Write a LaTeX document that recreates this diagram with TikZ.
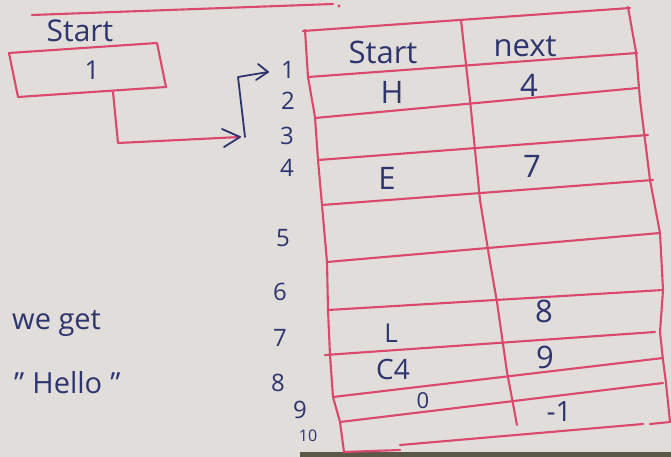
\documentclass[tikz,border=0pt]{standalone}
\usepackage{fontspec}
\setmainfont{Open Sans}
\definecolor{paper}{RGB}{224,221,218}
\definecolor{redpen}{RGB}{218,72,110}
\definecolor{bluepen}{RGB}{45,52,110}
\definecolor{shadow}{RGB}{92,88,72}
\tikzset{
  redline/.style={draw=redpen, line width=2.1pt, line join=round, line cap=round},
  blueline/.style={draw=bluepen, line width=1.8pt, line join=round, line cap=round},
  ink/.style={text=bluepen, inner sep=0pt, font=\fontsize{31}{31}\selectfont},
  rownum/.style={text=bluepen, inner sep=0pt, font=\fontsize{24}{24}\selectfont},
  side/.style={text=bluepen, inner sep=0pt, anchor=west, font=\fontsize{29}{29}\selectfont},
}
\begin{document}
\begin{tikzpicture}[x=1pt,y=-1pt]
\fill[paper] (0,0) rectangle (671,457);
\fill[shadow] (300,452) rectangle (671,457);
\useasboundingbox (0,0) rectangle (671,457);

% margin line at the top
\draw[redline] (32,15) -- (333,4);
\fill[redpen] (339,6) circle (1.6);

% start box
\node[ink, font=\fontsize{30}{30}\selectfont] (startlbl) at (80,31) {Start};
\coordinate (b1) at (9,53);
\coordinate (b2) at (157,43);
\coordinate (b3) at (166,87);
\coordinate (b4) at (18,97);
\draw[redline] (b1) -- (b2) -- (b3) -- (b4) -- cycle;
\node[ink, font=\fontsize{26}{26}\selectfont] (startval) at (92,70) {1};

% connector from the box to row 1
\coordinate (c0) at (113,92);
\coordinate (c1) at (118,143);
\coordinate (c2) at (240,137);
\coordinate (c3) at (238,77);
\coordinate (c4) at (268,72);
\draw[redline] (c0) -- (c1) -- (c2);
\draw[blueline] (222,129) -- (c2) -- (224,147);
\draw[blueline] (245,137) -- (c3) -- (c4);
\draw[blueline] (258,64) -- (c4) -- (256,80);

% table grid
\draw[redline] (305,30) -- (308,77) -- (315,117) -- (318,160) -- (322,205)
  -- (327,262) -- (328,310) -- (330,355) -- (333,397) -- (340,422) -- (344,452);
\draw[redline] (461,20) -- (470,100) -- (480,200) -- (490,262) -- (497,302)
  -- (507,372) -- (517,425);
\draw[redline] (628,7) -- (636,52) -- (640,100) -- (650,180) -- (660,233)
  -- (663,290) -- (660,332) -- (663,360) -- (666,383) -- (670,422) -- (650,424);
\draw[redline] (303,31) -- (630,8);
\draw[redline] (308,77) -- (637,53);
\draw[redline] (315,118) -- (638,88);
\draw[redline] (318,160) -- (648,135);
\draw[redline] (322,205) -- (653,180);
\draw[redline] (327,262) -- (660,233);
\draw[redline] (328,310) -- (663,290);
\draw[redline] (325,355) -- (655,332);
\draw[redline] (333,397) -- (663,358);
\draw[redline] (340,422) -- (663,383);
\draw[redline] (344,452) -- (400,450);
\draw[redline] (400,445) -- (643,424);

% table contents
\node[ink] (hstart) at (383,52) {Start};
\node[ink] (hnext) at (525,46) {next};
\node[ink] (s1) at (392,92) {H};
\node[ink] (n1) at (529,85) {4};
\node[ink] (s4) at (387,178) {E};
\node[ink] (n4) at (532,166) {7};
\node[ink, font=\fontsize{26}{26}\selectfont] (s7) at (391,333) {L};
\node[ink] (n7) at (544,311) {8};
\node[ink, font=\fontsize{28}{28}\selectfont] (s8) at (393,369) {C4};
\node[ink] (n8) at (545,357) {9};
\node[ink, font=\fontsize{22}{22}\selectfont] (s9) at (423,401) {0};
\node[ink, font=\fontsize{28}{28}\selectfont] (n9) at (559,412) {-1};

% row numbers
\node[rownum] (r1) at (288,70) {1};
\node[rownum] (r2) at (288,101) {2};
\node[rownum] (r3) at (287,136) {3};
\node[rownum] (r4) at (287,168) {4};
\node[rownum] (r5) at (283,238) {5};
\node[rownum] (r6) at (280,292) {6};
\node[rownum] (r7) at (280,338) {7};
\node[rownum] (r8) at (278,383) {8};
\node[rownum] (r9) at (300,410) {9};
\node[rownum, font=\fontsize{16}{16}\selectfont] (r10) at (308,436) {10};

% result text
\node[side] (weget) at (12,323) {we get};
\node[side] (hello) at (14,383) {"\;Hello\;"};
\end{tikzpicture}
\end{document}
